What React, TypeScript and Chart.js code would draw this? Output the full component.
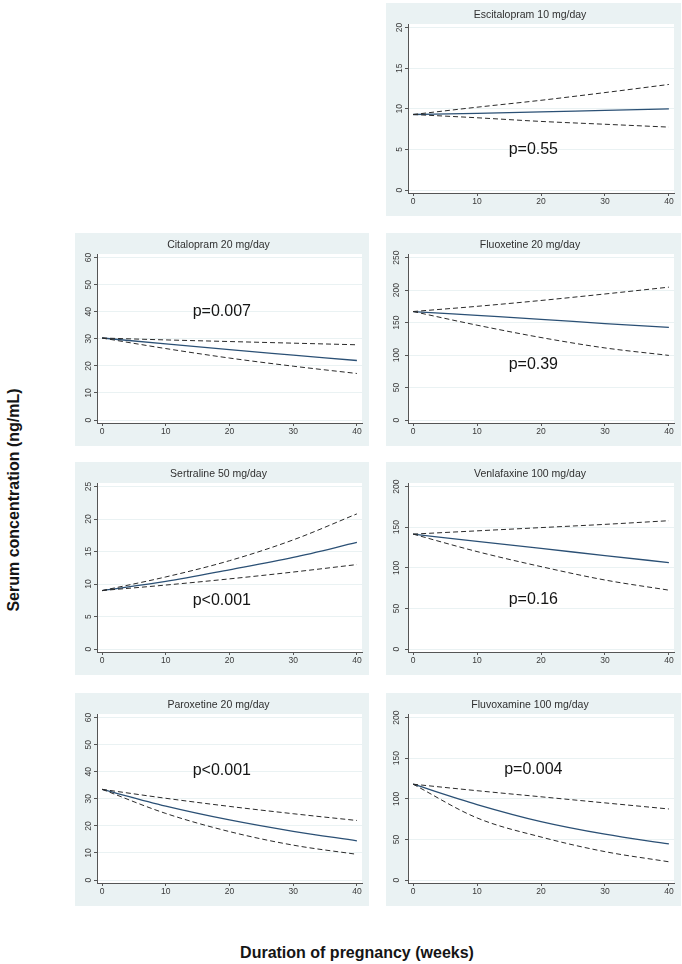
import React, { useEffect, useRef } from "react";
import { Chart, registerables } from "chart.js";

Chart.register(...registerables);

const FONT = '"Liberation Sans", Arial, Helvetica, sans-serif';

// Shared x values (weeks of pregnancy) and tick labels
const weeks = [0, 10, 20, 30, 40];
const xTicks = [0, 10, 20, 30, 40];

// Escitalopram 10 mg/day
const escitalopramFit = [9.3, 9.45, 9.62, 9.82, 10.0];
const escitalopramUpper = [9.3, 10.2, 11.05, 12.0, 13.0];
const escitalopramLower = [9.3, 8.9, 8.45, 8.1, 7.75];
const escitalopramTicks = [0, 5, 10, 15, 20];

// Citalopram 20 mg/day
const citalopramFit = [30.3, 28.1, 26.0, 24.0, 22.0];
const citalopramUpper = [30.3, 29.6, 29.0, 28.4, 27.8];
const citalopramLower = [30.3, 26.4, 22.9, 19.9, 17.2];
const citalopramTicks = [0, 10, 20, 30, 40, 50, 60];

// Fluoxetine 20 mg/day
const fluoxetineFit = [167, 161, 155, 148.5, 142.5];
const fluoxetineUpper = [167, 175, 184, 194, 204.5];
const fluoxetineLower = [167, 146, 127, 111, 99.5];
const fluoxetineTicks = [0, 50, 100, 150, 200, 250];

// Sertraline 50 mg/day
const sertralineFit = [9.0, 10.4, 12.2, 14.1, 16.4];
const sertralineUpper = [9.0, 11.1, 13.6, 16.8, 20.8];
const sertralineLower = [9.0, 9.85, 10.8, 11.85, 13.0];
const sertralineTicks = [0, 5, 10, 15, 20, 25];

// Venlafaxine 100 mg/day
const venlafaxineFit = [141.5, 132.5, 124, 115, 106.5];
const venlafaxineUpper = [141.5, 145.5, 149.5, 153.5, 158];
const venlafaxineLower = [141.5, 120, 101.5, 85, 72.5];
const venlafaxineTicks = [0, 50, 100, 150, 200];

// Paroxetine 20 mg/day
const paroxetineFit = [33.5, 27.3, 22.2, 18.0, 14.5];
const paroxetineUpper = [33.5, 30.2, 27.2, 24.5, 22.0];
const paroxetineLower = [33.5, 24.6, 17.9, 12.9, 9.5];
const paroxetineTicks = [0, 10, 20, 30, 40, 50, 60];

// Fluvoxamine 100 mg/day
const fluvoxamineFit = [118, 93, 72, 56.5, 44.5];
const fluvoxamineUpper = [118, 110, 102.5, 95, 87.5];
const fluvoxamineLower = [118, 76.5, 53, 35, 22.5];
const fluvoxamineTicks = [0, 50, 100, 150, 200];

// p-value annotations: [text, x (weeks), y (ng/mL)]
const escitalopramP = ["p=0.55", 18.8, 5.0];
const citalopramP = ["p=0.007", 18.8, 40];
const fluoxetineP = ["p=0.39", 18.8, 85];
const sertralineP = ["p<0.001", 18.8, 7.4];
const venlafaxineP = ["p=0.16", 18.8, 60.5];
const paroxetineP = ["p<0.001", 18.8, 40.5];
const fluvoxamineP = ["p=0.004", 18.8, 136];

type PanelDef = {
  title: string;
  fit: number[];
  upper: number[];
  lower: number[];
  ticks: number[];
  p: (string | number)[];
  left: number;
  top: number;
  width: number;
};

const COL_L = 75;
const COL_R = 386;
const ROWS = [3, 233, 462, 693];
const PANEL_H = 213;

const panels: PanelDef[] = [
  { title: "Escitalopram 10 mg/day", fit: escitalopramFit, upper: escitalopramUpper, lower: escitalopramLower, ticks: escitalopramTicks, p: escitalopramP, left: COL_R, top: ROWS[0], width: 295 },
  { title: "Citalopram 20 mg/day", fit: citalopramFit, upper: citalopramUpper, lower: citalopramLower, ticks: citalopramTicks, p: citalopramP, left: COL_L, top: ROWS[1], width: 294 },
  { title: "Fluoxetine 20 mg/day", fit: fluoxetineFit, upper: fluoxetineUpper, lower: fluoxetineLower, ticks: fluoxetineTicks, p: fluoxetineP, left: COL_R, top: ROWS[1], width: 295 },
  { title: "Sertraline 50 mg/day", fit: sertralineFit, upper: sertralineUpper, lower: sertralineLower, ticks: sertralineTicks, p: sertralineP, left: COL_L, top: ROWS[2], width: 294 },
  { title: "Venlafaxine 100 mg/day", fit: venlafaxineFit, upper: venlafaxineUpper, lower: venlafaxineLower, ticks: venlafaxineTicks, p: venlafaxineP, left: COL_R, top: ROWS[2], width: 295 },
  { title: "Paroxetine 20 mg/day", fit: paroxetineFit, upper: paroxetineUpper, lower: paroxetineLower, ticks: paroxetineTicks, p: paroxetineP, left: COL_L, top: ROWS[3], width: 294 },
  { title: "Fluvoxamine 100 mg/day", fit: fluvoxamineFit, upper: fluvoxamineUpper, lower: fluvoxamineLower, ticks: fluvoxamineTicks, p: fluvoxamineP, left: COL_R, top: ROWS[3], width: 295 },
];

const toPoints = (ys: number[]) => ys.map((y, i) => ({ x: weeks[i], y }));

function Panel({ def }: { def: PanelDef }) {
  const ref = useRef<HTMLCanvasElement | null>(null);
  useEffect(() => {
    if (!ref.current) return;
    const yMax = def.ticks[def.ticks.length - 1];
    const bgPlugin = {
      id: "panelBg",
      beforeDraw(chart: any) {
        const { ctx, chartArea, width, height } = chart;
        ctx.save();
        ctx.fillStyle = "#eaf2f3";
        ctx.fillRect(0, 0, width, height);
        ctx.fillStyle = "#ffffff";
        ctx.fillRect(chartArea.left, chartArea.top, chartArea.right - chartArea.left, chartArea.bottom - chartArea.top);
        ctx.restore();
      },
    };
    const pPlugin = {
      id: "pLabel",
      afterDatasetsDraw(chart: any) {
        const { ctx, scales } = chart;
        ctx.save();
        ctx.font = `16px ${FONT}`;
        ctx.fillStyle = "#151515";
        ctx.textAlign = "center";
        ctx.textBaseline = "middle";
        ctx.fillText(String(def.p[0]), scales.x.getPixelForValue(Number(def.p[1])), scales.y.getPixelForValue(Number(def.p[2])));
        ctx.restore();
      },
    };
    const dashed = {
      borderColor: "#2a2a2a",
      borderWidth: 1,
      borderDash: [5, 3],
      pointRadius: 0,
      cubicInterpolationMode: "monotone" as const,
      fill: false,
    };
    const chart = new Chart(ref.current, {
      type: "line",
      data: {
        datasets: [
          { ...dashed, label: "upper", data: toPoints(def.upper) },
          { ...dashed, label: "lower", data: toPoints(def.lower) },
          {
            label: "fit",
            data: toPoints(def.fit),
            borderColor: "#2b5075",
            borderWidth: 1.3,
            pointRadius: 0,
            cubicInterpolationMode: "monotone",
            fill: false,
          },
        ],
      },
      options: {
        animation: false,
        responsive: false,
        events: [],
        layout: { padding: { left: 0, right: 7, top: 0, bottom: 0 } },
        plugins: {
          legend: { display: false },
          tooltip: { enabled: false },
          title: {
            display: true,
            text: def.title,
            color: "#303030",
            font: { family: FONT, size: 10.5, weight: "normal" },
            padding: { top: 6, bottom: 2.4 },
          },
        },
        scales: {
          x: {
            type: "linear",
            min: -0.8,
            max: 40.8,
            afterBuildTicks: (axis: any) => {
              axis.ticks = xTicks.map((v) => ({ value: v }));
            },
            afterFit: (s: any) => {
              s.height = 23;
            },
            grid: { drawOnChartArea: false, drawTicks: true, tickLength: 3, tickColor: "#555" },
            border: { display: true, color: "#555", width: 1 },
            ticks: { color: "#3a3a3a", font: { family: FONT, size: 8.5 }, padding: 1, minRotation: 0, maxRotation: 0 },
          },
          y: {
            type: "linear",
            min: -0.018 * yMax,
            max: 1.022 * yMax,
            afterBuildTicks: (axis: any) => {
              axis.ticks = def.ticks.map((v) => ({ value: v }));
            },
            afterFit: (s: any) => {
              s.width = 22;
            },
            grid: { color: "#eaf2f3", lineWidth: 1, drawTicks: true, tickLength: 3, tickColor: "#555" },
            border: { display: true, color: "#555", width: 1 },
            ticks: {
              color: "#3a3a3a",
              font: { family: FONT, size: 8.5 },
              padding: 1,
              minRotation: 90,
              maxRotation: 90,
              crossAlign: "center",
            },
          },
        },
      },
      plugins: [bgPlugin, pPlugin],
    } as any);
    return () => chart.destroy();
  }, [def]);

  return (
    <canvas
      ref={ref}
      width={def.width}
      height={PANEL_H}
      style={{ position: "absolute", left: def.left, top: def.top, width: def.width, height: PANEL_H, display: "block" }}
    />
  );
}

export default function App() {
  return (
    <div style={{ position: "absolute", left: 0, top: 0, width: 682, height: 964, background: "#ffffff", overflow: "hidden" }}>
      {panels.map((p) => (
        <Panel key={p.title} def={p} />
      ))}
      <div
        style={{
          position: "absolute",
          left: 14,
          top: 500,
          transform: "translate(-50%, -50%) rotate(-90deg)",
          whiteSpace: "nowrap",
          fontFamily: FONT,
          fontWeight: "bold",
          fontSize: 16,
          color: "#151515",
          lineHeight: "18px",
        }}
      >
        Serum concentration (ng/mL)
      </div>
      <div
        style={{
          position: "absolute",
          left: 357,
          top: 953,
          transform: "translate(-50%, -50%)",
          whiteSpace: "nowrap",
          fontFamily: FONT,
          fontWeight: "bold",
          fontSize: 16,
          color: "#151515",
          lineHeight: "18px",
        }}
      >
        Duration of pregnancy (weeks)
      </div>
    </div>
  );
}
